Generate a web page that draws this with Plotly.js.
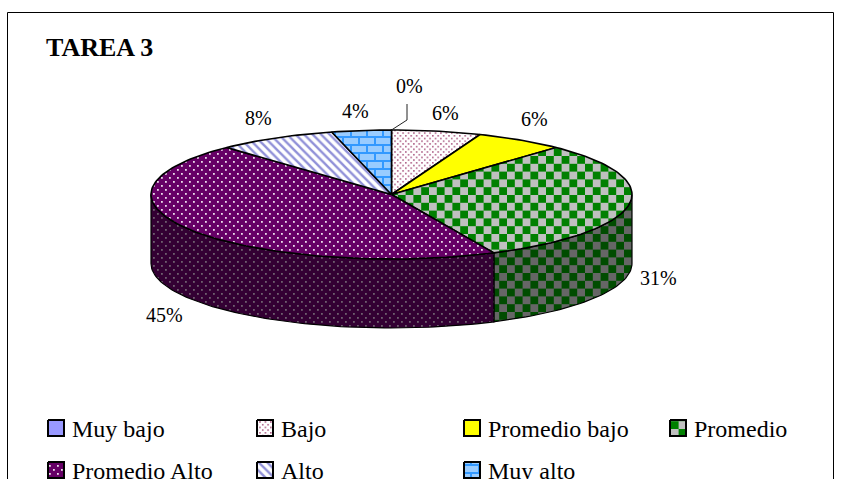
<!DOCTYPE html>
<html>
<head>
<meta charset="utf-8">
<script src="https://cdn.plot.ly/plotly-3.0.1.min.js"></script>
<style>html,body{margin:0;padding:0;background:#fff;overflow:hidden}</style>
</head>
<body>
<div id="chart" style="width:841px;height:479px"></div>
<script>
// Series of the TAREA 3 pie
const categories = ["Muy bajo", "Bajo", "Promedio bajo", "Promedio", "Promedio Alto", "Alto", "Muy alto"];
const values = [0, 6, 6, 31, 45, 8, 4];
const chartTitle = "TAREA 3";

// Fill styles, one per category: top colour pair and side colour pair
const tileKinds = ["solid", "fineDots", "solid", "checks", "dots", "stripes", "bricks"];
const topFg = ["#9999FF", "#B0648A", "#FFFF00", "#008000", "#EBDDEB", "#9090D8", "#3399FF"];
const topBg = ["#9999FF", "#FFFFFF", "#FFFF00", "#C0C0C0", "#660066", "#FFFFFF", "#99CCFF"];
const sideFg = ["#4C4C80", "#4C1A33", "#808000", "#004C00", "#6E606E", "#404068", "#1A4C80"];
const sideBg = ["#4C4C80", "#808080", "#808000", "#666666", "#330033", "#808080", "#4C6680"];

// Label placement and legend grid (page pixels)
const labelX = [409, 445, 534, 658, 164, 258, 355];
const labelY = [86, 113, 119, 278, 315, 118, 111];
const legendX = [48, 257, 464, 670, 48, 257, 464];
const legendY = [420, 420, 420, 420, 462, 462, 462];

// Tilted disc geometry
const cx = 391.5, cy = 194.5, rx = 240.5, ry = 64.5, depth = 69;
const total = values.reduce((a, b) => a + b, 0);
const px = deg => cx + rx * Math.sin(deg * Math.PI / 180);
const py = deg => cy - ry * Math.cos(deg * Math.PI / 180);

function arc(from, to) {
  const n = Math.max(2, Math.ceil(Math.abs(to - from) / 1.5));
  const xs = [], ys = [];
  for (let k = 0; k <= n; k++) {
    const d = from + (to - from) * k / n;
    xs.push(px(d));
    ys.push(py(d));
  }
  return [xs, ys];
}

// Raw SVG tiles for the Excel-style pattern fills
function tile(kind, fg, bg) {
  const r = (x, y, w, h, c) => `<rect x="${x}" y="${y}" width="${w}" height="${h}" fill="${c}"/>`;
  if (kind === "checks") return {w: 15.6, h: 15.6, svg: r(0, 0, 15.6, 15.6, bg) + r(0, 0, 7.8, 7.8, fg) + r(7.8, 7.8, 7.8, 7.8, fg)};
  if (kind === "dots") return {w: 8, h: 8, svg: r(0, 0, 8, 8, bg) + r(1, 1, 1.8, 1.8, fg) + r(5, 5, 1.8, 1.8, fg)};
  if (kind === "fineDots") return {w: 5.4, h: 5.4, svg: r(0, 0, 5.4, 5.4, bg) + r(0, 0, 1.6, 1.6, fg) + r(2.7, 2.7, 1.6, 1.6, fg)};
  if (kind === "bricks") return {w: 16, h: 16, svg: r(0, 0, 16, 16, bg) + r(0, 0, 16, 2, fg) + r(0, 8, 16, 2, fg) + r(14, 0, 2, 8, fg) + r(6, 8, 2, 8, fg)};
  return null;
}

function styled(uid, kind, fg, bg, xs, ys, width) {
  const t = {
    type: "scatter", mode: "lines", uid: uid, x: xs, y: ys, fill: "toself",
    fillcolor: bg, line: {color: "#000", width: width}, hoverinfo: "skip", showlegend: false
  };
  if (kind !== "solid") {
    t.fillpattern = kind === "stripes"
      ? {shape: "\\", size: 6, solidity: 0.4, fgcolor: fg, bgcolor: bg}
      : {shape: ".", size: 8, solidity: 0.3, fgcolor: fg, bgcolor: bg};
  }
  return t;
}

const traces = [], retile = [];
function add(uid, i, fg, bg, xs, ys, width) {
  traces.push(styled(uid, tileKinds[i], fg, bg, xs, ys, width));
  retile.push({uid: uid, tile: tile(tileKinds[i], fg, bg)});
}

// Slice start/end angles, clockwise from the top of the disc
const startDeg = [], endDeg = [];
let running = 0;
values.forEach((v, i) => {
  startDeg[i] = running / total * 360;
  running += v;
  endDeg[i] = running / total * 360;
});

// Rim: only the front half of the disc shows its side
values.forEach((v, i) => {
  const a = Math.max(startDeg[i], 90), b = Math.min(endDeg[i], 270);
  if (b <= a) return;
  const [ax, ay] = arc(a, b);
  const xs = ax.concat(ax.slice().reverse(), [ax[0]]);
  const ys = ay.concat(ay.slice().reverse().map(y => y + depth), [ay[0]]);
  add("side-" + i, i, sideFg[i], sideBg[i], xs, ys, 1.2);
});

// Top faces
values.forEach((v, i) => {
  if (v === 0) return;
  const [ax, ay] = arc(startDeg[i], endDeg[i]);
  add("top-" + i, i, topFg[i], topBg[i], [cx].concat(ax, [cx]), [cy].concat(ay, [cy]), 1.6);
});

// Leader line for the empty first slice
traces.push({
  type: "scatter", mode: "lines", x: [px(startDeg[0]), labelX[0] - 2, labelX[0] - 2],
  y: [py(startDeg[0]), py(startDeg[0]) - 10, labelY[0] + 18],
  line: {color: "#222", width: 1}, hoverinfo: "skip", showlegend: false
});

// Legend keys
const keySize = 16;
categories.forEach((name, i) => {
  const x0 = legendX[i], y0 = legendY[i];
  add("key-" + i, i, topFg[i], topBg[i],
    [x0, x0 + keySize, x0 + keySize, x0, x0],
    [y0, y0, y0 + keySize, y0 + keySize, y0], 2);
});

const textFont = {family: "Liberation Serif, serif", color: "#000"};
const annotations = [];
values.forEach((v, i) => annotations.push({
  x: labelX[i], y: labelY[i], xref: "x", yref: "y", text: v + "%", showarrow: false,
  xanchor: "center", yanchor: "middle", font: Object.assign({size: 20}, textFont)
}));
categories.forEach((name, i) => annotations.push({
  x: legendX[i] + 21.5, y: legendY[i] + 9, xref: "x", yref: "y", text: name, showarrow: false,
  xanchor: "left", yanchor: "middle", font: Object.assign({size: 24}, textFont)
}));
annotations.push({
  x: 44, y: 47, xref: "x", yref: "y", text: "<b>" + chartTitle + "</b>", showarrow: false,
  xanchor: "left", yanchor: "middle", font: Object.assign({size: 26}, textFont)
});

const layout = {
  width: 841, height: 479, margin: {l: 0, r: 0, t: 0, b: 0},
  paper_bgcolor: "#fff", plot_bgcolor: "#fff", showlegend: false,
  xaxis: {range: [0, 841], visible: false, fixedrange: true},
  yaxis: {range: [479, 0], visible: false, fixedrange: true},
  shapes: [{type: "rect", xref: "x", yref: "y", x0: 7.5, y0: 12.5, x1: 833.5, y1: 495, line: {color: "#000", width: 1}, layer: "below"}],
  annotations: annotations
};

Plotly.newPlot("chart", traces, layout, {displayModeBar: false, staticPlot: true}).then(() => {
  // Swap the generated pattern tiles for the checker, brick and dot weaves
  retile.forEach(item => {
    if (!item.tile) return;
    document.querySelectorAll('pattern[id*="' + item.uid + '"]').forEach(p => {
      p.setAttribute("width", item.tile.w);
      p.setAttribute("height", item.tile.h);
      p.innerHTML = item.tile.svg;
    });
  });
});
</script>
</body>
</html>
